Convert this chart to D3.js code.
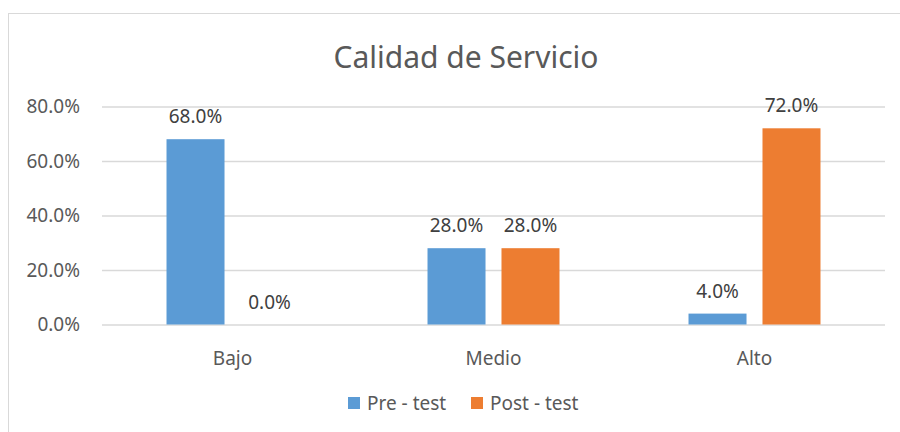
<!DOCTYPE html>
<html>
<head>
<meta charset="utf-8">
<script src="https://cdnjs.cloudflare.com/ajax/libs/d3/7.8.5/d3.min.js"></script>
<style>
    body { margin: 0; background: #fff; }
    text { font-family: 'Noto Sans', sans-serif; }
</style>
</head>
<body>
<svg id="chart"></svg>
<script>
(function () {
    'use strict';

    const title = 'Calidad de Servicio';
    const categories = ['Bajo', 'Medio', 'Alto'];
    const seriesNames = ['Pre - test', 'Post - test'];
    const preTest = [0.68, 0.28, 0.04];
    const postTest = [0.00, 0.28, 0.72];
    const yTicks = [0, 0.2, 0.4, 0.6, 0.8];
    const colors = ['#5b9bd5', '#ed7d31'];

    const margin = {
        'top': 106.5,
        'bottom': 107.5,
        'left': 102,
        'right': 15
    };
    const fullWidth = 900;
    const fullHeight = 432;
    const width = fullWidth - margin.left - margin.right;
    const height = fullHeight - margin.top - margin.bottom;

    let svg = d3.select('#chart')
        .attr('width', fullWidth)
        .attr('height', fullHeight);

    // chart frame
    svg.append('rect')
        .attr('x', 8.5)
        .attr('y', 13.5)
        .attr('width', 920)
        .attr('height', 440)
        .attr('fill', '#fff')
        .attr('stroke', '#d9d9d9');

    svg.append('text')
        .attr('x', 466)
        .attr('y', 68)
        .attr('text-anchor', 'middle')
        .attr('fill', '#595959')
        .style('font-size', '30px')
        .text(title);

    let rows = categories.map((c, i) => {
        return { cat: c, values: [preTest[i], postTest[i]] };
    });

    let y = d3.scaleLinear()
        .domain([0, d3.max(yTicks)])
        .range([height, 0]);

    let x0 = d3.scaleBand()
        .domain(categories)
        .range([0, width]);

    let x1 = d3.scaleBand()
        .domain(seriesNames)
        .range([0, x0.bandwidth()])
        .paddingInner(0.216)
        .paddingOuter(0.872);

    let chart = svg.append('g')
        .attr('transform', `translate(${margin.left}, ${margin.top})`);

    // gridlines + y labels
    let yAxis = chart.append('g')
        .call(d3.axisLeft(y)
            .tickValues(yTicks)
            .tickSize(-width)
            .tickPadding(22)
            .tickFormat(d3.format('.1%')));
    yAxis.select('.domain').remove();
    yAxis.selectAll('line')
        .attr('stroke', '#d9d9d9')
        .attr('stroke-width', 1.3);
    yAxis.selectAll('text')
        .attr('fill', '#595959')
        .style('font-size', '19px');

    let xAxis = chart.append('g')
        .attr('transform', `translate(0, ${height})`)
        .call(d3.axisBottom(x0).tickSize(0).tickPadding(27));
    xAxis.select('.domain').remove();
    xAxis.selectAll('text')
        .attr('fill', '#595959')
        .style('font-size', '19px');

    let group = chart.selectAll('.group')
        .data(rows)
        .enter().append('g')
            .attr('class', 'group')
            .attr('transform', (d) => {
                return `translate(${x0(d.cat)}, 0)`;
            });

    let bar = group.selectAll('.bar')
        .data((d) => {
            return d.values.map((v, i) => {
                return { name: seriesNames[i], value: v, idx: i };
            });
        })
        .enter().append('g')
            .attr('class', 'bar');

    bar.append('rect')
        .attr('x', (d) => {
            return x1(d.name);
        })
        .attr('y', (d) => {
            return y(d.value);
        })
        .attr('width', x1.bandwidth())
        .attr('height', (d) => {
            return height - y(d.value);
        })
        .attr('fill', (d) => {
            return colors[d.idx];
        });

    bar.append('text')
        .attr('x', (d) => {
            return x1(d.name) + x1.bandwidth() / 2;
        })
        .attr('y', (d) => {
            return y(d.value) - 16;
        })
        .attr('text-anchor', 'middle')
        .attr('fill', '#404040')
        .style('font-size', '19px')
        .text((d) => {
            return d3.format('.1%')(d.value);
        });

    // legend
    let legend = svg.append('g')
        .attr('transform', 'translate(348, 397)');

    let item = legend.selectAll('.item')
        .data(seriesNames)
        .enter().append('g')
            .attr('class', 'item')
            .attr('transform', (d, i) => {
                return `translate(${i * 123}, 0)`;
            });

    item.append('rect')
        .attr('width', 12)
        .attr('height', 12)
        .attr('fill', (d, i) => {
            return colors[i];
        });

    item.append('text')
        .attr('x', 19)
        .attr('y', 13)
        .attr('fill', '#595959')
        .style('font-size', '19px')
        .text((d) => {
            return d;
        });
})();
</script>
</body>
</html>
